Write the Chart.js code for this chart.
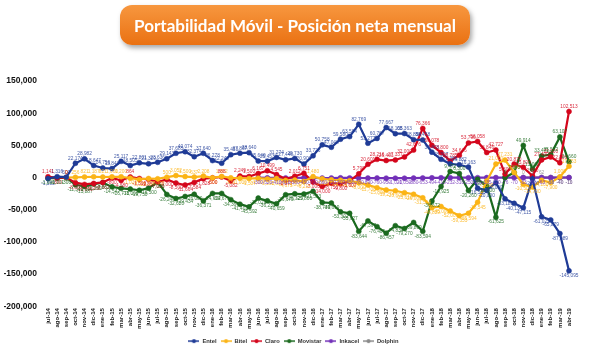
<!DOCTYPE html>
<html><head><meta charset="utf-8">
<script src="https://cdn.jsdelivr.net/npm/chart.js@4.4.1/dist/chart.umd.min.js"></script>
<style>
html,body{margin:0;padding:0;background:#fff;}
#wrap{position:relative;width:600px;height:352px;overflow:hidden;background:#fff;}
#c{position:absolute;left:0;top:0;}
#title{position:absolute;left:120px;top:5px;width:350px;height:40px;border-radius:12px;background:linear-gradient(#F7973F,#EA7112);box-shadow:2px 3px 5px rgba(0,0,0,0.35);color:#fff;font-family:Lato,'Liberation Sans',sans-serif;font-weight:700;font-size:16px;display:flex;align-items:center;justify-content:center;white-space:nowrap;z-index:2;}
</style></head>
<body><div id="wrap"><canvas id="c" width="600" height="352"></canvas><div id="title">Portabilidad Móvil - Posición neta mensual</div></div>
<script>
const months = ['jul-14','ago-14','sep-14','oct-14','nov-14','dic-14','ene-15','feb-15','mar-15','abr-15','may-15','jun-15','jul-15','ago-15','sep-15','oct-15','nov-15','dic-15','ene-16','feb-16','mar-16','abr-16','may-16','jun-16','jul-16','ago-16','sep-16','oct-16','nov-16','dic-16','ene-17','feb-17','mar-17','abr-17','may-17','jun-17','jul-17','ago-17','sep-17','oct-17','nov-17','dic-17','ene-18','feb-18','mar-18','abr-18','may-18','jun-18','jul-18','ago-18','sep-18','oct-18','nov-18','dic-18','ene-19','feb-19','mar-19','abr-19'];

const entel = [-1582,1316,500,22174,28982,18647,14756,13848,25117,18505,22801,21329,23636,29143,37685,40074,32374,37640,26278,22249,35453,37867,38640,25640,25453,31274,27446,29730,20906,33726,50758,47048,59580,63584,82769,53277,60767,77667,68105,68363,58884,58458,39458,28307,21301,19882,16163,-16500,-20000,-8000,-33188,-40134,-47115,-2000,-61025,-65879,-87089,-145095];

const bitel = [null,null,0,256,821,1187,821,1000,1200,-1029,-3025,-1500,-2000,500,3052,1500,637,2208,-500,1662,-531,-1000,-1507,-1097,-2200,-1600,-4673,-4000,-6215,1480,-2000,-3500,-4200,-5000,-8000,-11706,-15800,-19274,-20608,-23610,-26000,-31504,-46829,-45000,-52000,-59353,-55594,-38545,-5300,21000,27231,7900,-10500,-14700,-4200,-7900,1000,17653];

const claro = [1141,-300,0,-8000,-10696,-9200,-7662,-800,-4580,864,-1500,-2851,-7021,-3000,-8500,-11664,-7584,-1828,-500,888,-5082,2249,1500,6167,10499,4545,-2377,2012,6751,-7000,-14000,-8750,-9800,-5607,5790,20601,28216,26401,27337,32000,42676,76366,50078,38800,25785,34646,53796,56058,38846,42727,5300,20870,15800,2600,27400,32000,22856,102513];

const movistar = [-1000,-1101,-300,-11342,-13887,-10200,-7862,-14547,-16771,-18000,-19750,-16500,-7000,-26246,-32620,-29434,-26000,-36371,-24652,-24675,-34364,-41401,-45592,-32026,-36239,-40659,-26675,-25329,-25800,-21533,-38749,-39619,-53302,-55627,-83644,-67397,-76405,-86457,-74834,-79270,-69809,-83594,-36672,-13925,9472,6300,-20260,-2600,-13000,-61625,0,7900,49914,13000,33471,35582,63107,24660];

const inkacel = [null,null,null,null,null,null,null,null,null,null,null,null,null,null,null,null,null,null,null,null,null,null,null,-300,-520,-410,-610,-380,-450,-700,-860,-720,-503,-650,-780,-890,-760,-950,-1020,-1050,-880,-653,-494,-410,-232,-310,-250,-201,-135,-120,-76,-70,-63,-60,-63,-58,-40,-10];

const dolphin = [null,null,null,null,null,null,null,null,null,null,null,null,null,null,null,null,null,null,null,null,null,null,null,null,null,null,null,null,null,null,null,null,null,null,null,null,null,null,null,null,null,null,null,null,null,null,null,null,null,null,null,null,0,1,62,-58,-40,-16];

const seriesNames = ['Entel','Bitel','Claro','Movistar','Inkacel','Dolphin'];
const seriesData = [entel,bitel,claro,movistar,inkacel,dolphin];
const seriesColors = ['#1F3B96','#FBB416','#D4061C','#1B6A1F','#7230B8','#8A8A8A'];

const yTicks = [-200000,-150000,-100000,-50000,0,50000,100000,150000];

(function(){
  const t=document.getElementById('title');
  const m=document.createElement('canvas').getContext('2d');
  m.font='700 16px Lato';
  const w=m.measureText(t.textContent).width;
  t.style.fontSize=(16*322/w).toFixed(2)+'px';
})();

function legendIcon(color){
  const c=document.createElement('canvas'); c.width=11; c.height=6;
  const x=c.getContext('2d');
  x.strokeStyle=color; x.lineWidth=1.5;
  x.beginPath(); x.moveTo(0,3); x.lineTo(11,3); x.stroke();
  x.fillStyle=color; x.beginPath(); x.arc(5.5,3,2.1,0,Math.PI*2); x.fill();
  return c;
}
const icons = seriesColors.map(legendIcon);

const valueLabels = {
  id:'valueLabels',
  afterDatasetsDraw(chart){
    const ctx=chart.ctx; ctx.save();
    ctx.font='4.8px "Liberation Sans", Arial, sans-serif';
    ctx.textAlign='center';
    chart.data.datasets.forEach((ds,di)=>{
      const meta=chart.getDatasetMeta(di);
      ctx.fillStyle=seriesColors[di];
      ctx.globalAlpha=0.85;
      meta.data.forEach((pt,i)=>{
        const v=ds.data[i]; if(v==null) return;
        const txt=v.toLocaleString('en-US');
        if(v>=0){ctx.textBaseline='bottom'; ctx.fillText(txt,pt.x,pt.y-2.5);}
        else {ctx.textBaseline='top'; ctx.fillText(txt,pt.x,pt.y+2.5);}
      });
    });
    ctx.restore();
  }
};

const datasets = seriesNames.map((n,i)=>({
  label:n, data:seriesData[i], yAxisID:'y',
  borderColor:seriesColors[i], backgroundColor:seriesColors[i],
  pointBackgroundColor:seriesColors[i], pointBorderColor:seriesColors[i],
  pointRadius:2.5, pointBorderWidth:0.5, borderWidth:2.2, tension:0, spanGaps:false
}));

new Chart(document.getElementById('c'),{
  type:'line',
  data:{labels:months, datasets},
  options:{
    responsive:false, animation:false, devicePixelRatio:1,
    layout:{padding:{top:81,left:4,right:17,bottom:-2}},
    plugins:{
      tooltip:{enabled:false},
      legend:{
        position:'bottom',
        labels:{
          usePointStyle:true, pointStyleWidth:11, boxHeight:6, padding:4,
          color:'#333', font:{size:5.8, weight:'bold', family:"'Liberation Sans', Arial, sans-serif"},
          generateLabels(chart){
            const items=Chart.defaults.plugins.legend.labels.generateLabels(chart);
            items.forEach((it,i)=>{it.pointStyle=icons[i];});
            return items;
          }
        }
      }
    },
    scales:{
      x:{
        grid:{display:false, drawTicks:false}, border:{display:false},
        ticks:{autoSkip:false, maxRotation:90, minRotation:90, padding:2, color:'#222',
          font:{size:6, weight:'bold', family:"'Liberation Sans', Arial, sans-serif"}},
        afterFit(s){s.height=28;}
      },
      y:{
        min:-200000, max:150000,
        grid:{display:false, drawTicks:false}, border:{display:false},
        afterBuildTicks(s){s.ticks=yTicks.map(v=>({value:v}));},
        ticks:{padding:11, color:'#111',
          font:{size:8.5, weight:'bold', family:"'Liberation Sans', Arial, sans-serif"},
          callback:(v)=>Number(v).toLocaleString('en-US')},
        afterFit(s){s.width=44;}
      },
      yR:{
        position:'right', min:-200000, max:150000,
        grid:{display:false, drawTicks:false}, border:{display:false},
        ticks:{display:false},
        afterFit(s){s.width=14;}
      }
    }
  },
  plugins:[valueLabels]
});
</script></body></html>
